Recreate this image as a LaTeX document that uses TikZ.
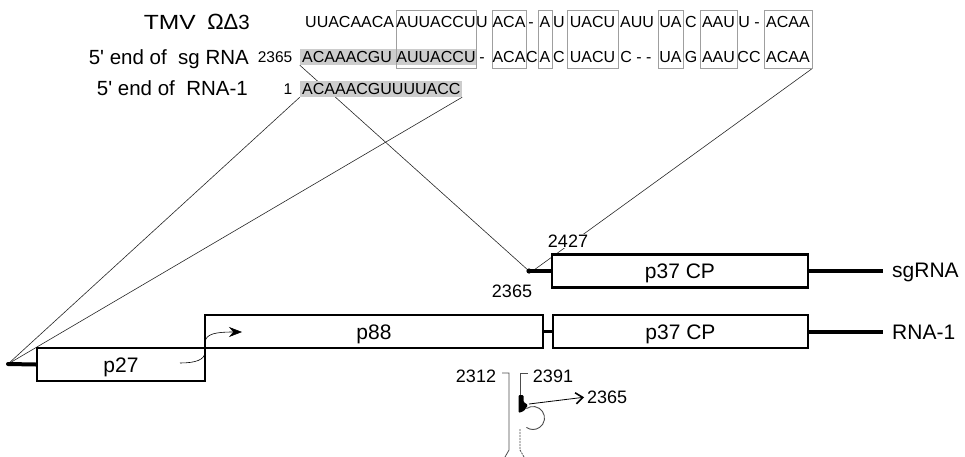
\documentclass[tikz,border=0pt]{standalone}
\usepackage{fontspec}
\setmainfont{Liberation Sans}
\usetikzlibrary{arrows.meta}
\pgfdeclarelayer{bg}
\pgfsetlayers{bg,main}
\begin{document}
\begin{tikzpicture}[x=1pt,y=-1pt,
  lab/.style={font=\fontsize{20.5}{20.5}\selectfont, inner sep=0pt, text height=14.7pt, text depth=0pt},
  glab/.style={font=\fontsize{21}{21}\selectfont, inner sep=0pt, text height=15pt, text depth=0pt},
  num/.style={font=\fontsize{18}{18}\selectfont, inner sep=1pt, text height=12.9pt, text depth=0pt},
  snum/.style={font=\fontsize{15.5}{15.5}\selectfont, inner sep=0pt, text height=11.1pt, text depth=0pt},
  sq/.style={font=\fontsize{16}{16}\selectfont, inner sep=0pt, text height=11.5pt, text depth=0pt},
  abox/.style={draw=gray!75, line width=0.8pt, minimum height=58, minimum width=#1, inner sep=0pt},
  shd/.style={fill=gray!40, minimum height=16, minimum width=#1, inner sep=0pt},
  gbox/.style={draw, line width=2.6pt, fill=white, minimum height=33, minimum width=#1, inner sep=0pt,
               font=\fontsize{21}{21}\selectfont, text height=15pt, text depth=0pt},
  tail/.style={line width=4pt},
  conn/.style={line width=0.6pt, black!85},
  stem/.style={line width=0.8pt, draw=gray!60!black},
]
\useasboundingbox (0,0) rectangle (965,457);

% shaded 5' ends
\node[shd=176] (sh2) at (388,57) {};
\node[shd=162] (sh3) at (381,89) {};

% alignment boxes
\node[abox=80] (b1) at (436,39) {};
\node[abox=34] (b2) at (509,39) {};
\node[abox=14] (b3) at (545,39) {};
\node[abox=51] (b4) at (592.5,39) {};
\node[abox=25] (b5) at (670.5,39) {};
\node[abox=37] (b6) at (718.5,39) {};
\node[abox=48] (b7) at (788,39) {};

% labels
\node[lab, anchor=east] (tmv) at (250,22) {\scalebox{1.2}[1]{TMV}\ \ {\fontsize{22}{22}\selectfont ΩΔ}3};
\node[lab, anchor=east] (l2) at (249,57) {5\textquotesingle\ end of\ \ sg RNA};
\node[lab, anchor=east] (l3) at (248,88) {5\textquotesingle\ end of\ \ RNA-1};

% row 1
\node[sq, anchor=west] (r1a) at (305,22) {UUACAACA};
\node[sq] (r1b) at (436,22) {AUUACCU};
\node[sq] (r1c) at (482,22) {U};
\node[sq] (r1d) at (509,22) {ACA};
\node[sq] (r1e) at (531,22) {-};
\node[sq] (r1f) at (545,22) {A};
\node[sq] (r1g) at (559,22) {U};
\node[sq] (r1h) at (592.5,22) {UACU};
\node[sq] (r1i) at (637,22) {AUU};
\node[sq] (r1j) at (670.5,22) {UA};
\node[sq] (r1k) at (691,22) {C};
\node[sq] (r1l) at (718.5,22) {AAU};
\node[sq] (r1m) at (749,22) {U -};
\node[sq] (r1n) at (788,22) {ACAA};

% row 2
\node[snum] (n2365a) at (275,57) {2365};
\node[sq, anchor=west] (r2a) at (302,57) {ACAAACGU};
\node[sq] (r2b) at (436,57) {AUUACCU};
\node[sq] (r2c) at (482,57) {-};
\node[sq] (r2d) at (509,57) {ACA};
\node[sq] (r2e) at (532,57) {C};
\node[sq] (r2f) at (545,57) {A};
\node[sq] (r2g) at (559,57) {C};
\node[sq] (r2h) at (592.5,57) {UACU};
\node[sq] (r2i) at (636,57) {C - -};
\node[sq] (r2j) at (670.5,57) {UA};
\node[sq] (r2k) at (691,57) {G};
\node[sq] (r2l) at (718.5,57) {AAU};
\node[sq] (r2m) at (749,57) {CC};
\node[sq] (r2n) at (788,57) {ACAA};

% row 3
\node[snum] (n1) at (288,89) {1};
\node[sq, anchor=west] (r3a) at (302,89) {ACAAACGUUUUACC};

% genome map
\node[gbox=168] (p27) at (121,364.5) {p27};
\node[gbox=338] (p88) at (374,331.5) {p88};
\node[gbox=255] (cpa) at (680.5,331.5) {p37 CP};
\node[gbox=256] (cps) at (680,271) {p37 CP};

\coordinate (Lend) at (8,364);
\coordinate (S) at (529,271);
\coordinate (S2) at (534,270);
\coordinate (t1) at (883,331.5);
\coordinate (t2) at (883,271);

\draw[tail, line cap=round] (Lend) -- (p27.west);
\draw[tail] (cpa.east) -- (t1);
\draw[tail] (cps.east) -- (t2);
\draw[tail] (S) -- (cps.west);
\fill (S) circle (2.6);
\draw[line width=3pt] (p88.east) -- (cpa.west);

\node[glab, anchor=west] (rna1) at (892,331.5) {RNA-1};
\node[glab, anchor=west] (sgrna) at (892,270) {sgRNA};

% curved readthrough arrow
\coordinate (ca) at (180,363);
\coordinate (cb) at (242,332);
\draw[line width=0.6pt, -{Stealth[length=13pt,width=10pt]}] (ca) .. controls (195,363) and (205,360) .. (205,352) -- (205,342) .. controls (206,334) and (215,332) .. (cb);

% numbers
\node[num, fill=white] (n2427) at (568,241) {2427};
\node[num] (n2365b) at (512,291) {2365};

% stem-loop
\node[num] (n2312) at (476,376) {2312};
\node[num] (n2391) at (553,376) {2391};
\node[num, anchor=west] (n2365c) at (586,397) {2365};
\draw[stem] (502,373) -- (509,373) -- (509,450) -- (505,457);
\draw[stem] (528,373) -- (520,373) -- (520,396);
\draw[stem, dash pattern=on 2pt off 1pt] (520,429) -- (520,450) -- (524,457);
\draw[line width=0.9pt, gray!60!black] (533,418) ++(235:11.5) arc[start angle=235, end angle=485, radius=11.5];
\fill[rounded corners=1.2pt] (518.5,395) -- (523.5,395) -- (523.5,402) -- (528,405) -- (524,411) -- (518.5,413) -- cycle;
\coordinate (ab) at (529,404);
\draw[line width=0.8pt, shorten >=2pt, -{Straight Barb[length=7pt,width=11pt,line width=1.6pt]}] (ab) -- (n2365c.west);

% connectors from the alignment
\begin{pgfonlayer}{bg}
\draw[conn] (sh2.south west) -- (S);
\draw[conn] (b7.south east) -- (S2);
\draw[conn] (sh3.south west) -- (Lend);
\draw[conn] (sh3.south east) -- (Lend);
\end{pgfonlayer}
\end{tikzpicture}
\end{document}
